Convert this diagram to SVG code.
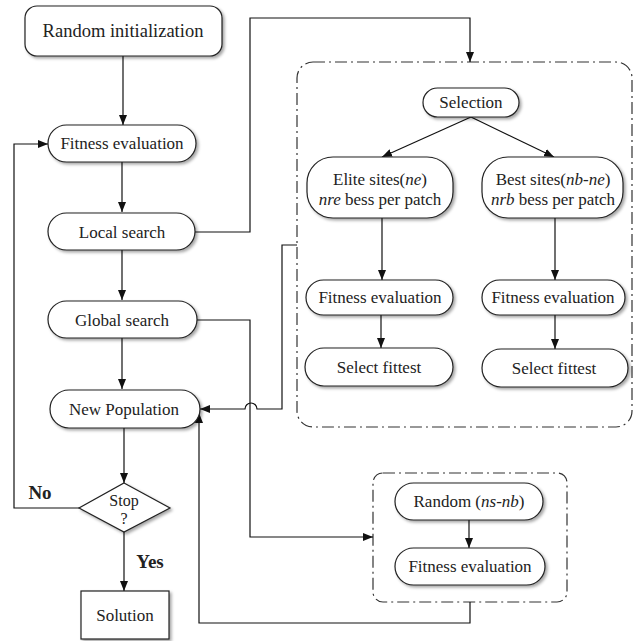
<svg xmlns="http://www.w3.org/2000/svg" width="634" height="641" viewBox="0 0 634 641">
<defs>
<filter id="sh" x="-10%" y="-20%" width="130%" height="150%">
<feDropShadow dx="2" dy="2" stdDeviation="1.5" flood-color="#000" flood-opacity="0.35"/>
</filter>
<marker id="ah" viewBox="0 0 10 8" refX="10" refY="4" markerWidth="10" markerHeight="8" markerUnits="userSpaceOnUse" orient="auto">
<path d="M0,0 L10,4 L0,8 Z" fill="#111"/>
</marker>
<style>
.n{fill:#fff;stroke:#222;stroke-width:1.2;filter:url(#sh)}
text{font-family:"Liberation Serif",serif;fill:#222;text-anchor:middle}
.c{fill:none;stroke:#111;stroke-width:1.2}
.a{marker-end:url(#ah)}
.g{fill:none;stroke:#333;stroke-width:1.2;stroke-dasharray:12 4 2 4}
</style>
</defs>
<g id="groups">
<rect class="g" x="297" y="62" width="335" height="365" rx="16"/>
<rect class="g" x="373" y="473" width="194" height="129" rx="10"/>
</g>
<g id="connectors">
<path class="c a" d="M123,56 V125"/>
<path class="c a" d="M122,162 V212"/>
<path class="c a" d="M122,250 V300"/>
<path class="c a" d="M122,338 V389"/>
<path class="c a" d="M124,428 V483"/>
<path class="c a" d="M124,532 V591"/>
<path class="c a" d="M79,508 H14 V144 H48"/>
<path class="c a" d="M195,232 H250 V18 H470 V62"/>
<path class="c a" d="M197,320 H250 V537 H373"/>
<path class="c a" d="M297,245 H282 V409 H257 A6,6 0 0 0 245,409 H200"/>
<path class="c a" d="M470,602 V623 H199 V413"/>
<path class="c a" d="M471,117 L382,157"/>
<path class="c a" d="M471,117 L554,157"/>
<path class="c a" d="M382,218 V280"/>
<path class="c a" d="M555,218 V280"/>
<path class="c a" d="M381,315 V348"/>
<path class="c a" d="M555,315 V349"/>
<path class="c a" d="M469,520 V548"/>
</g>
<g id="random-init"><rect class="n" x="25" y="6" width="197" height="50" rx="12"/><text font-family="Liberation Serif" x="123" y="37" font-size="18.5">Random initialization</text></g>
<g id="fitness1"><rect class="n" x="48" y="125" width="148" height="37" rx="18.5"/><text font-family="Liberation Serif" x="122" y="149" font-size="17">Fitness evaluation</text></g>
<g id="local"><rect class="n" x="48" y="213" width="147" height="37" rx="18.5"/><text font-family="Liberation Serif" x="122" y="238" font-size="17">Local search</text></g>
<g id="global"><rect class="n" x="48" y="301" width="149" height="37" rx="18.5"/><text font-family="Liberation Serif" x="122" y="326" font-size="17">Global search</text></g>
<g id="newpop"><rect class="n" x="50" y="390" width="150" height="38" rx="19"/><text font-family="Liberation Serif" x="124" y="415" font-size="17">New Population</text></g>
<g id="stop"><path class="n" d="M124,483 L170,508 L124,532 L79,508 Z"/><text font-family="Liberation Serif" x="124" y="506" font-size="16">Stop</text><text font-family="Liberation Serif" x="124" y="524" font-size="16">?</text></g>
<g id="solution"><rect class="n" x="81" y="591" width="88" height="48"/><text font-family="Liberation Serif" x="125" y="621" font-size="17">Solution</text></g>
<g id="labels"><text font-family="Liberation Serif" x="40" y="499" font-size="19" font-weight="bold">No</text><text font-family="Liberation Serif" x="150" y="568" font-size="19" font-weight="bold">Yes</text></g>
<g id="selection"><rect class="n" x="423" y="88" width="96" height="29" rx="14.5"/><text font-family="Liberation Serif" x="471" y="108" font-size="17">Selection</text></g>
<g id="elite"><rect class="n" x="307" y="157" width="146" height="61" rx="26"/><text font-family="Liberation Serif" x="380" y="185" font-size="17">Elite sites(<tspan font-style="italic">ne</tspan>)</text><text font-family="Liberation Serif" x="380" y="205" font-size="17"><tspan font-style="italic">nre</tspan> bess per patch</text></g>
<g id="best"><rect class="n" x="482" y="157" width="141" height="61" rx="26"/><text font-family="Liberation Serif" x="553" y="185" font-size="17">Best sites(<tspan font-style="italic">nb-ne</tspan>)</text><text font-family="Liberation Serif" x="553" y="205" font-size="17"><tspan font-style="italic">nrb</tspan> bess per patch</text></g>
<g id="fitness-l"><rect class="n" x="306" y="280" width="147" height="35" rx="17.5"/><text font-family="Liberation Serif" x="380" y="303" font-size="17">Fitness evaluation</text></g>
<g id="fitness-r"><rect class="n" x="482" y="280" width="143" height="35" rx="17.5"/><text font-family="Liberation Serif" x="553" y="303" font-size="17">Fitness evaluation</text></g>
<g id="fittest-l"><rect class="n" x="305" y="348" width="148" height="38" rx="19"/><text font-family="Liberation Serif" x="379" y="373" font-size="17">Select fittest</text></g>
<g id="fittest-r"><rect class="n" x="482" y="349" width="146" height="38" rx="19"/><text font-family="Liberation Serif" x="554" y="374" font-size="17">Select fittest</text></g>
<g id="random-ns"><rect class="n" x="395" y="483" width="148" height="37" rx="18.5"/><text font-family="Liberation Serif" x="469" y="507" font-size="17">Random (<tspan font-style="italic">ns-nb</tspan>)</text></g>
<g id="fitness-ns"><rect class="n" x="395" y="548" width="150" height="37" rx="18.5"/><text font-family="Liberation Serif" x="470" y="572" font-size="17">Fitness evaluation</text></g>
</svg>
